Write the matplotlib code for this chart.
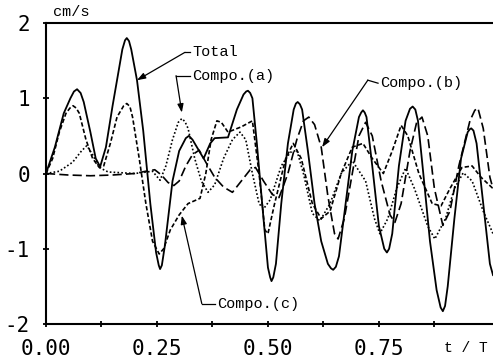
import matplotlib
matplotlib.use("Agg")
import matplotlib.pyplot as plt
from matplotlib.ticker import FixedLocator

# velocity time histories, t/T vs cm/s
t_total = [0.000, 0.020, 0.040, 0.055, 0.063, 0.070, 0.078, 0.085, 0.100, 0.112,
           0.122, 0.135, 0.150, 0.160, 0.172, 0.178, 0.182, 0.187, 0.192, 0.205,
           0.219, 0.235, 0.248, 0.254, 0.257, 0.261, 0.268, 0.285, 0.300, 0.315,
           0.322, 0.330, 0.340, 0.355, 0.370, 0.380, 0.410, 0.430, 0.445, 0.451,
           0.455, 0.460, 0.465, 0.475, 0.490, 0.500, 0.505, 0.508, 0.512, 0.518,
           0.530, 0.545, 0.558, 0.563, 0.567, 0.572, 0.577, 0.590, 0.605, 0.620,
           0.635, 0.642, 0.647, 0.653, 0.660, 0.675, 0.690, 0.705, 0.710, 0.714,
           0.718, 0.722, 0.735, 0.750, 0.762, 0.768, 0.773, 0.780, 0.795, 0.810,
           0.820, 0.826, 0.832, 0.838, 0.850, 0.865, 0.880, 0.889, 0.894, 0.899,
           0.905, 0.920, 0.935, 0.950, 0.955, 0.958, 0.963, 0.970, 0.985, 1.000,
           1.007]
v_total = [0.00, 0.35, 0.80, 1.00, 1.09, 1.12, 1.07, 0.95, 0.55, 0.20,
           0.09, 0.35, 0.90, 1.24, 1.65, 1.77, 1.80, 1.76, 1.65, 1.24,
           0.57, -0.40, -1.05, -1.22, -1.27, -1.22, -0.95, -0.10, 0.30, 0.47,
           0.50, 0.45, 0.35, 0.20, 0.40, 0.47, 0.48, 0.85, 1.05, 1.09,
           1.10, 1.07, 1.00, 0.40, -0.60, -1.25, -1.38, -1.43, -1.38, -1.20,
           -0.40, 0.40, 0.85, 0.93, 0.95, 0.92, 0.85, 0.30, -0.40, -0.90,
           -1.20, -1.26, -1.28, -1.24, -1.10, -0.40, 0.30, 0.75, 0.81, 0.84,
           0.81, 0.75, 0.10, -0.70, -1.00, -1.05, -1.00, -0.80, 0.10, 0.70,
           0.86, 0.89, 0.85, 0.70, 0.00, -0.90, -1.55, -1.78, -1.83, -1.76,
           -1.50, -0.60, 0.20, 0.55, 0.59, 0.60, 0.57, 0.40, -0.40, -1.20,
           -1.35]

t_a = [0.000, 0.030, 0.060, 0.080, 0.092, 0.105, 0.120, 0.140, 0.170, 0.200,
       0.240, 0.257, 0.270, 0.285, 0.298, 0.306, 0.313, 0.320, 0.335, 0.350,
       0.365, 0.380, 0.400, 0.420, 0.437, 0.450, 0.465, 0.480, 0.490, 0.505,
       0.530, 0.550, 0.565, 0.580, 0.600, 0.617, 0.640, 0.665, 0.690, 0.720,
       0.740, 0.752, 0.770, 0.790, 0.810, 0.830, 0.860, 0.876, 0.900, 0.920,
       0.940, 0.960, 0.985, 1.007]
v_a = [0.00, 0.03, 0.15, 0.30, 0.37, 0.25, 0.08, 0.02, 0.01, 0.00,
       0.03, -0.09, 0.10, 0.45, 0.68, 0.73, 0.69, 0.60, 0.20, -0.10,
       -0.25, -0.15, 0.20, 0.45, 0.55, 0.45, 0.00, -0.40, -0.47, -0.35,
       0.10, 0.28, 0.31, 0.00, -0.53, -0.63, -0.40, 0.00, 0.17, -0.10,
       -0.60, -0.80, -0.60, -0.20, 0.07, -0.20, -0.70, -0.87, -0.60, -0.20,
       0.01, -0.10, -0.50, -0.80]

t_b = [0.000, 0.050, 0.100, 0.150, 0.200, 0.225, 0.245, 0.260, 0.275, 0.288,
       0.300, 0.315, 0.330, 0.345, 0.360, 0.380, 0.400, 0.420, 0.440, 0.460,
       0.472, 0.490, 0.510, 0.525, 0.545, 0.565, 0.580, 0.592, 0.605, 0.620,
       0.635, 0.650, 0.658, 0.672, 0.690, 0.705, 0.720, 0.735, 0.755, 0.775,
       0.786, 0.800, 0.820, 0.835, 0.847, 0.860, 0.875, 0.894, 0.910, 0.930,
       0.955, 0.966, 0.973, 0.985, 1.000, 1.007]
v_b = [0.00, -0.02, -0.03, -0.02, 0.00, 0.03, 0.05, -0.02, -0.12, -0.16,
       -0.10, 0.10, 0.25, 0.31, 0.15, -0.05, -0.18, -0.25, -0.10, 0.05,
       0.08, -0.10, -0.28, -0.32, 0.00, 0.45, 0.70, 0.75, 0.65, 0.35,
       -0.30, -0.80, -0.87, -0.60, 0.00, 0.50, 0.68, 0.50, -0.10, -0.55,
       -0.65, -0.40, 0.30, 0.68, 0.75, 0.50, -0.20, -0.69, -0.50, 0.10,
       0.70, 0.84, 0.87, 0.60, -0.05, -0.20]

t_c = [0.000, 0.015, 0.030, 0.045, 0.054, 0.061, 0.068, 0.075, 0.090, 0.105,
       0.120, 0.130, 0.145, 0.160, 0.175, 0.182, 0.189, 0.195, 0.210, 0.225,
       0.240, 0.255, 0.265, 0.280, 0.300, 0.320, 0.347, 0.360, 0.372, 0.385,
       0.395, 0.410, 0.440, 0.465, 0.480, 0.493, 0.500, 0.515, 0.540, 0.557,
       0.575, 0.600, 0.620, 0.640, 0.665, 0.690, 0.714, 0.735, 0.760, 0.780,
       0.800, 0.815, 0.840, 0.870, 0.890, 0.910, 0.937, 0.960, 0.980, 1.007]
v_c = [0.00, 0.20, 0.55, 0.80, 0.87, 0.90, 0.87, 0.80, 0.45, 0.20,
       0.08, 0.10, 0.40, 0.75, 0.90, 0.93, 0.89, 0.75, 0.20, -0.40,
       -0.90, -1.07, -1.00, -0.75, -0.55, -0.40, -0.33, 0.00, 0.45, 0.70,
       0.68, 0.55, 0.62, 0.70, 0.00, -0.75, -0.80, -0.40, 0.20, 0.40,
       0.20, -0.40, -0.60, -0.50, 0.00, 0.35, 0.40, 0.20, 0.00, 0.30,
       0.64, 0.50, 0.00, -0.40, -0.43, -0.20, 0.08, 0.10, -0.05, -0.20]

x_major = [0.0, 0.25, 0.5, 0.75]
x_labels = ["0.00", "0.25", "0.50", "0.75"]
x_minor = [0.125, 0.375, 0.625, 0.875]
y_ticks = [-2, -1, 0, 1, 2]

mono = "Liberation Mono"

fig = plt.figure(figsize=(4.93, 3.62), dpi=100)
ax = fig.add_axes([46 / 493, 38 / 362, 447 / 493, 301 / 362])

lw = 1.2
ax.plot(t_total, v_total, color="black", lw=1.3, solid_joinstyle="round")
ax.plot(t_a, v_a, color="black", lw=lw, linestyle=(0, (1.0, 1.3)))
ax.plot(t_b, v_b, color="black", lw=lw, linestyle=(0, (5.5, 2.5)))
ax.plot(t_c, v_c, color="black", lw=lw, linestyle=(0, (2.6, 1.4)))

ax.set_xlim(0, 1.007)
ax.set_ylim(-2, 2)

ax.xaxis.set_major_locator(FixedLocator(x_major))
ax.xaxis.set_minor_locator(FixedLocator(x_minor))
ax.set_xticklabels(x_labels)
ax.set_yticks(y_ticks)
ax.set_yticklabels([str(v) for v in y_ticks])

ax.tick_params(which="both", direction="inout", length=5, width=1.3,
               color="black")
ax.tick_params(axis="x", which="major", pad=8, labelsize=15)
ax.tick_params(axis="y", which="major", pad=9, labelsize=15)
for lab in ax.get_xticklabels() + ax.get_yticklabels():
    lab.set_family("DejaVu Sans Mono")

for side in ("left", "bottom", "top"):
    ax.spines[side].set_linewidth(1.5)
ax.spines["right"].set_visible(False)

# units and axis name
ax.text(0.016, 1.035, "cm/s", transform=ax.transAxes, family=mono,
        fontsize=11, va="center", ha="left")
ax.text(0.89, -0.08, "t / T", transform=ax.transAxes, family=mono,
        fontsize=10.5, va="center", ha="left")

# curve labels with leader arrows
labels = [
    ("Total",     (0.329, 1.61), (0.313, 1.61), (0.205, 1.24)),
    ("Compo.(a)", (0.329, 1.30), (0.293, 1.30), (0.306, 0.81)),
    ("Compo.(b)", (0.752, 1.20), (0.725, 1.24), (0.622, 0.35)),
    ("Compo.(c)", (0.385, -1.73), (0.351, -1.73), (0.306, -0.56)),
]
for text, pos, corner, tip in labels:
    ax.text(pos[0], pos[1], text, family=mono, fontsize=11,
            va="center", ha="left")
    ax.plot([corner[0], pos[0] - 0.004], [corner[1], pos[1]],
            color="black", lw=0.9)
    ax.annotate("", xy=tip, xytext=corner,
                arrowprops=dict(arrowstyle="-|>,head_length=0.5,head_width=0.18",
                                color="black", lw=0.9, shrinkA=0, shrinkB=0))

fig.savefig("out.png", dpi=100)
